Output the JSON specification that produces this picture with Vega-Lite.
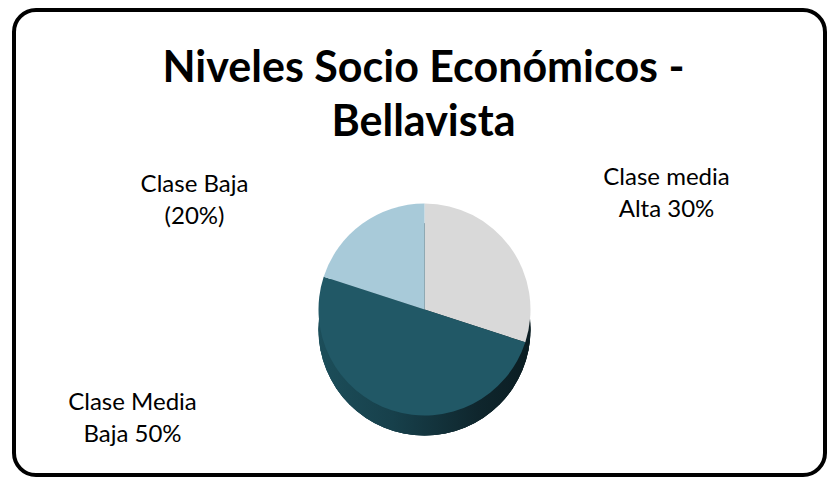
{
  "$schema": "https://vega.github.io/schema/vega-lite/v6.json",
  "width": 827,
  "height": 477,
  "autosize": {"type": "fit", "contains": "padding"},
  "padding": {"left": 14, "top": 10, "right": 2, "bottom": 2},
  "background": "white",
  "view": {"stroke": "black", "strokeWidth": 4, "cornerRadius": 22, "fill": "white"},
  "config": {
    "view": {"stroke": "black", "strokeWidth": 4, "cornerRadius": 22},
    "font": "Lato"
  },
  "title": {
    "text": ["Niveles Socio Económicos -", "Bellavista"],
    "fontSize": 43,
    "fontWeight": "bold",
    "font": "Lato",
    "color": "black",
    "anchor": "middle",
    "lineHeight": 54,
    "offset": -135,
    "dx": 4
  },
  "data": {
    "values": [
      {"clase": "Clase media Alta", "label": "Clase media\nAlta 30%", "pct": 30, "orden": 1},
      {"clase": "Clase Media Baja", "label": "Clase Media\nBaja 50%", "pct": 50, "orden": 2},
      {"clase": "Clase Baja", "label": "Clase Baja\n(20%)", "pct": 20, "orden": 3}
    ]
  },
  "layer": [
    {
      "mark": {
        "type": "arc",
        "theta": 0,
        "theta2": 6.2832,
        "radius": 106,
        "x": {"expr": "width/2 + 5"},
        "y": {"expr": "height/2 + 87"},
        "fill": {
          "gradient": "linear",
          "x1": 0, "y1": 0, "x2": 1, "y2": 0,
          "stops": [
            {"offset": 0, "color": "#1c4e5a"},
            {"offset": 0.35, "color": "#17404b"},
            {"offset": 0.75, "color": "#0f262d"},
            {"offset": 1, "color": "#0b1d22"}
          ]
        }
      },
      "encoding": {}
    },
    {
      "mark": {
        "type": "arc",
        "radius": 106,
        "x": {"expr": "width/2 + 5"},
        "y": {"expr": "height/2 + 67"}
      },
      "encoding": {
        "theta": {"field": "pct", "type": "quantitative", "stack": true},
        "order": {"field": "orden", "type": "ordinal"},
        "color": {
          "field": "clase",
          "type": "nominal",
          "scale": {
            "domain": ["Clase media Alta", "Clase Media Baja", "Clase Baja"],
            "range": ["#d9d9d9", "#215866", "#a8cad9"]
          },
          "legend": null
        }
      }
    },
    {
      "transform": [{"filter": "datum.orden == 1"}],
      "mark": {
        "type": "text",
        "x": {"expr": "width/2 + 5"}, "y": {"expr": "height/2 + 60"},
        "dx": 242, "dy": -125,
        "fontSize": 24, "lineHeight": 32, "lineBreak": "\n",
        "align": "center", "baseline": "middle", "color": "black"
      },
      "encoding": {"text": {"field": "label"}}
    },
    {
      "transform": [{"filter": "datum.orden == 2"}],
      "mark": {
        "type": "text",
        "x": {"expr": "width/2 + 5"}, "y": {"expr": "height/2 + 60"},
        "dx": -292, "dy": 100,
        "fontSize": 24, "lineHeight": 32, "lineBreak": "\n",
        "align": "center", "baseline": "middle", "color": "black"
      },
      "encoding": {"text": {"field": "label"}}
    },
    {
      "transform": [{"filter": "datum.orden == 3"}],
      "mark": {
        "type": "text",
        "x": {"expr": "width/2 + 5"}, "y": {"expr": "height/2 + 60"},
        "dx": -230, "dy": -118,
        "fontSize": 24, "lineHeight": 32, "lineBreak": "\n",
        "align": "center", "baseline": "middle", "color": "black"
      },
      "encoding": {"text": {"field": "label"}}
    }
  ]
}
